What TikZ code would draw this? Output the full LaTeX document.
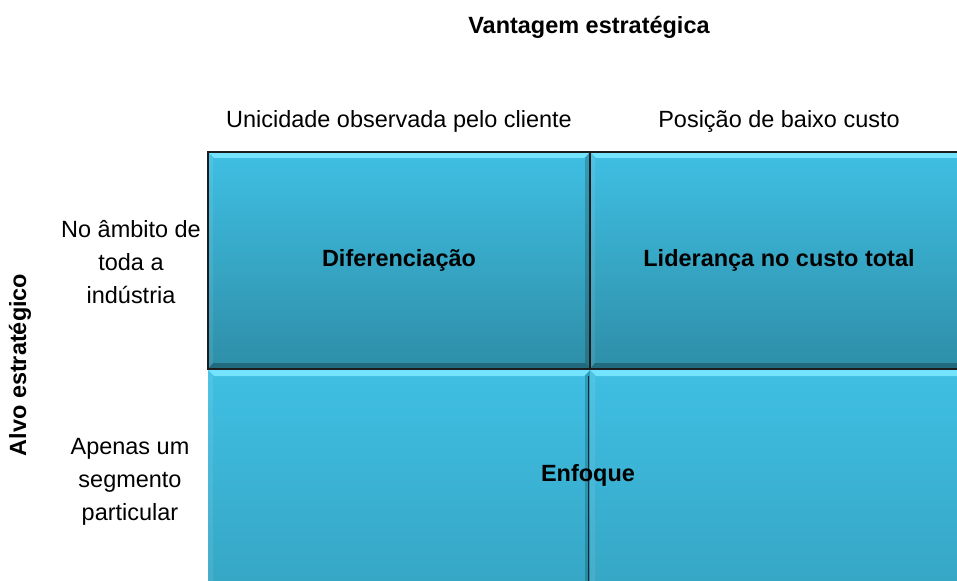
\documentclass[tikz,border=0pt]{standalone}
\usepackage{fontspec}
\setmainfont{Liberation Sans}
\definecolor{celltop}{HTML}{3FBFE3}
\definecolor{cellbot}{HTML}{2E8EA8}
\definecolor{bevlight}{HTML}{74E3FF}
\definecolor{edgeblack}{HTML}{1C1C1C}
\newcommand\bevelcell[4]{%
  \fill[top color=celltop,bottom color=cellbot] (#1,#2) rectangle (#3,#4);
  \fill[bevlight] (#1,#2) -- (#3,#2) -- (#3-6,#2+6) -- (#1+6,#2+6) -- cycle;
  \fill[white,opacity=0.08] (#1,#2) -- (#1+5,#2+6) -- (#1+5,#4-6) -- (#1,#4) -- cycle;
  \fill[black,opacity=0.18] (#3,#2) -- (#3-5,#2+6) -- (#3-5,#4-6) -- (#3,#4) -- cycle;
  \fill[black,opacity=0.25] (#1,#4) -- (#1+5,#4-6) -- (#3-5,#4-6) -- (#3,#4) -- cycle;
}
\begin{document}
\begin{tikzpicture}[x=0.75pt,y=-0.75pt,
  lbl/.style={font=\fontsize{17.6}{20}\selectfont, text=black, inner sep=0pt},
  side/.style={lbl, align=center, font=\fontsize{17.6}{24.5}\selectfont},
  hdr/.style={font=\bfseries\fontsize{17.6}{20}\selectfont, text=black, inner sep=0pt},
  celltext/.style={hdr}]
\useasboundingbox (0,0) rectangle (957,581);
\clip (0,0) rectangle (957,581);
% cells
\bevelcell{208}{152}{590}{369}
\bevelcell{590}{152}{980}{369}
\bevelcell{208}{370}{590}{800}
\bevelcell{590}{370}{980}{800}
\draw[black!70!cellbot,line width=1.2pt] (588.5,376) -- (588.5,581);
\draw[edgeblack,line width=1.5pt] (208,152) rectangle (590,369);
\draw[edgeblack,line width=1.5pt] (590,152) rectangle (980,369);
% headings
\node[hdr] (vant) at (589,27) {Vantagem estratégica};
\node[lbl] (unic) at (399,121) {Unicidade observada pelo cliente};
\node[lbl] (pos) at (779,121) {Posição de baixo custo};
\node[hdr,rotate=90] (alvo) at (20,365) {Alvo estratégico};
\node[side] (ambito) at (131,262) {No âmbito de\\toda a\\indústria};
\node[side] (apenas) at (130,482) {Apenas um\\segmento\\particular};
% cell texts
\node[celltext] (dif) at (399,260) {Diferenciação};
\node[celltext] (lid) at (779,260) {Liderança no custo total};
\node[celltext] (enf) at (588,475) {Enfoque};
\end{tikzpicture}
\end{document}
